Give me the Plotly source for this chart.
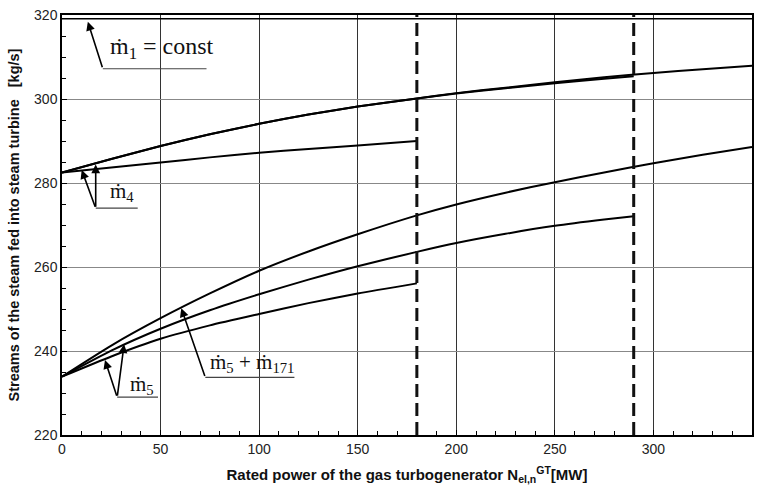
import plotly.graph_objects as go

# ---------------- data ----------------
x_full = [0, 25, 50, 75, 100, 125, 150, 180, 200, 225, 250, 275, 300, 325, 350]
m1_const = 319.1
upper_a = [282.5, 285.7, 288.8, 291.6, 294.1, 296.3, 298.2, 300.1, 301.4, 302.7, 304.0, 305.2, 306.2, 307.1, 307.9]

x_290 = [0, 25, 50, 75, 100, 125, 150, 180, 200, 225, 250, 275, 290]
upper_b = [282.5, 285.7, 288.8, 291.6, 294.1, 296.3, 298.2, 300.1, 301.3, 302.55, 303.75, 304.8, 305.4]

x_180 = [0, 25, 50, 75, 100, 125, 150, 180]
m4_low = [282.5, 283.7, 284.9, 286.1, 287.2, 288.1, 288.9, 290.0]

m5_top = [233.9, 241.3, 247.8, 253.7, 259.1, 263.7, 267.8, 272.3, 274.9, 277.7, 280.2, 282.5, 284.7, 286.7, 288.6]
m5_mid = [233.9, 240.1, 245.3, 249.7, 253.5, 257.0, 260.2, 263.6, 265.7, 267.9, 269.8, 271.3, 272.1]
m5_low = [233.9, 238.7, 242.9, 246.1, 248.8, 251.4, 253.7, 256.1]

limits = [180, 290]

x_ticks = [0, 50, 100, 150, 200, 250, 300, 350]
y_ticks = [220, 240, 260, 280, 300, 320]

x_title = "Rated power of the gas turbogenerator N<sub>el,n</sub><sup>GT</sup>[MW]"
y_title = "Streams of the steam fed into steam turbine   [kg/s]"

# annotation labels: (text, text_x, text_y, tail_x, tail_y, line_end_x, tips, size)
labels = [
    ("ṁ<sub>1</sub> = const", 23.3, 312.2, 20.7, 307.2, 73.3, [(13.1, 318.4)], 24),
    ("ṁ<sub>4</sub>", 23.3, 277.8, 17.1, 274.0, 38.4, [(10.0, 283.1), (17.1, 284.4)], 21),
    ("ṁ<sub>5</sub>", 33.4, 231.9, 28.0, 229.0, 48.7, [(21.8, 237.85), (31.5, 241.6)], 21),
    ("ṁ<sub>5</sub> + ṁ<sub>171</sub>", 73.9, 237.1, 72.7, 233.7, 117.9, [(60.5, 250.2)], 21),
]

# ---------------- figure ----------------
fig = go.Figure()
line_style = dict(color="black", width=2, shape="spline", smoothing=0.6)

fig.add_trace(go.Scatter(x=[x_full[0], x_full[-1]], y=[m1_const, m1_const], mode="lines",
                         line=dict(color="black", width=1.5), showlegend=False, hoverinfo="skip"))
fig.add_trace(go.Scatter(x=x_full, y=upper_a, mode="lines", line=line_style, showlegend=False))
fig.add_trace(go.Scatter(x=x_290, y=upper_b, mode="lines", line=line_style, showlegend=False))
fig.add_trace(go.Scatter(x=x_180, y=m4_low, mode="lines", line=line_style, showlegend=False))
fig.add_trace(go.Scatter(x=x_full, y=m5_top, mode="lines", line=line_style, showlegend=False))
fig.add_trace(go.Scatter(x=x_290, y=m5_mid, mode="lines", line=line_style, showlegend=False))
fig.add_trace(go.Scatter(x=x_180, y=m5_low, mode="lines", line=line_style, showlegend=False))

for lx in limits:
    fig.add_shape(type="line", xref="x", yref="y", x0=lx, x1=lx, y0=220, y1=320,
                  line=dict(color="#111", width=3, dash="13px,6px"), layer="above")

for text, tx, ty, tailx, taily, endx, tips, size in labels:
    fig.add_shape(type="line", xref="x", yref="y", x0=tailx, x1=endx, y0=taily, y1=taily,
                  line=dict(color="#444", width=1.2))
    for (px, py) in tips:
        fig.add_annotation(x=px, y=py, ax=tailx, ay=taily, xref="x", yref="y",
                           axref="x", ayref="y", text="", showarrow=True,
                           arrowhead=2, arrowsize=1.1, arrowwidth=1.6, arrowcolor="black")
    fig.add_annotation(x=tx, y=ty, xref="x", yref="y", text=text, showarrow=False,
                       xanchor="left", yanchor="middle",
                       font=dict(family="Liberation Serif, Times New Roman, serif", size=size, color="#111"))

axis_common = dict(showline=True, linecolor="black", linewidth=1.5, mirror=True,
                   ticks="inside", ticklen=5, tickcolor="black", zeroline=False)

fig.update_xaxes(range=[0, 350], tickvals=x_ticks, showgrid=True, gridcolor="#333", gridwidth=1,
                 minor=dict(dtick=10, ticks="inside", ticklen=4, tickcolor="black", showgrid=False),
                 tickfont=dict(family="Liberation Sans Narrow, Liberation Sans, Arial", size=14, color="#222"),
                 title=dict(text="<b>" + x_title + "</b>", standoff=14,
                            font=dict(family="Liberation Sans Narrow, Liberation Sans, Arial", size=15, color="#111")),
                 **axis_common)
fig.update_yaxes(range=[220, 320], tickvals=y_ticks, showgrid=True, gridcolor="#888", gridwidth=1,
                 minor=dict(dtick=5, ticks="inside", ticklen=4, tickcolor="black", showgrid=False),
                 tickfont=dict(family="Liberation Sans, Arial", size=14, color="#222"),
                 title=dict(text="<b>" + y_title + "</b>", standoff=11,
                            font=dict(family="Liberation Sans, Arial", size=14.5, color="#111")),
                 **axis_common)

fig.update_layout(width=761, height=495, margin=dict(l=62, r=7, t=9, b=60),
                  plot_bgcolor="white", paper_bgcolor="white")

fig.write_html("out.html")
